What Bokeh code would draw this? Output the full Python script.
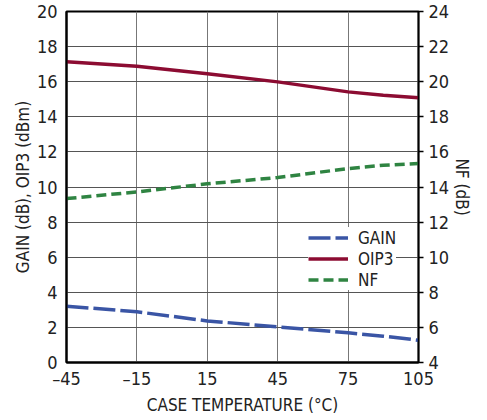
from bokeh.plotting import figure
from bokeh.models import (Range1d, LinearAxis, FixedTicker, SingleIntervalTicker,
                          Legend, LegendItem)
from bokeh.embed import file_html
from bokeh.resources import INLINE

# ---- data ----
temp = [-45, -15, 15, 45, 75, 90, 105]
gain = [3.21, 2.89, 2.37, 2.03, 1.69, 1.50, 1.27]
oip3 = [17.13, 16.88, 16.45, 15.99, 15.42, 15.23, 15.08]
nf = [13.34, 13.72, 14.18, 14.54, 15.05, 15.24, 15.34]
x_ticks = [-45, -15, 15, 45, 75, 105]
x_tick_labels = ["–45", "–15", "15", "45", "75", "105"]

FONT = "'DejaVu Sans Condensed', Roboto, sans-serif"
TICK_SIZE = "18px"
LABEL_SIZE = "17px"

p = figure(width=470, height=414, x_range=Range1d(-45, 105), y_range=Range1d(0, 20),
           output_backend="svg", toolbar_location=None,
           min_border_left=66, min_border_right=52, min_border_top=11, min_border_bottom=52)
p.frame_width = 352
p.frame_height = 351
p.extra_y_ranges = {"nf": Range1d(4, 24)}

p.outline_line_color = "black"
p.outline_line_width = 2
p.background_fill_color = "white"
p.border_fill_color = "white"

# x axis
xa = p.xaxis[0]
xa.ticker = FixedTicker(ticks=x_ticks)
xa.major_label_overrides = {t: l for t, l in zip(x_ticks, x_tick_labels)}
xa.axis_label = "CASE TEMPERATURE (°C)"

# left y axis
ya = p.yaxis[0]
ya.ticker = SingleIntervalTicker(interval=2)
ya.axis_label = "GAIN (dB), OIP3 (dBm)"

for ax in (xa, ya):
    ax.major_tick_out = 0
    ax.major_tick_in = 0
    ax.minor_tick_out = 0
    ax.minor_tick_in = 0
    ax.axis_line_color = "black"
    ax.axis_line_width = 2
    ax.major_label_text_font = FONT
    ax.major_label_text_font_size = TICK_SIZE
    ax.major_label_text_color = "#222222"
    ax.axis_label_text_font = FONT
    ax.axis_label_text_font_size = LABEL_SIZE
    ax.axis_label_text_font_style = "normal"
    ax.axis_label_text_color = "#222222"
xa.major_label_standoff = 5
xa.axis_label_standoff = 3
ya.major_label_standoff = 9
ya.axis_label_standoff = 1

# right axis
ra = LinearAxis(y_range_name="nf", ticker=SingleIntervalTicker(interval=2), axis_label="NF (dB)")
ra.major_tick_out = 5
ra.major_tick_in = 0
ra.minor_tick_out = 0
ra.minor_tick_in = 0
ra.major_tick_line_color = "black"
ra.major_tick_line_width = 1.5
ra.axis_line_color = "black"
ra.axis_line_width = 1.5
ra.major_label_text_font = FONT
ra.major_label_text_font_size = TICK_SIZE
ra.major_label_text_color = "#222222"
ra.major_label_standoff = 5
ra.axis_label_text_font = FONT
ra.axis_label_text_font_size = LABEL_SIZE
ra.axis_label_text_font_style = "normal"
ra.axis_label_text_color = "#222222"
ra.axis_label_standoff = 0
p.add_layout(ra, "right")

# grid
p.xgrid.grid_line_color = "#777777"
p.ygrid.grid_line_color = "#555555"
p.xgrid.grid_line_width = 1
p.ygrid.grid_line_width = 1

# lines
r_gain = p.line(temp, gain, line_color="#3a55a5", line_width=3.5, line_dash="22 5")
r_oip3 = p.line(temp, oip3, line_color="#8c0c32", line_width=3.5)
r_nf = p.line(temp, nf, y_range_name="nf", line_color="#2f8442", line_width=3.5, line_dash="10 5")

legend = Legend(items=[LegendItem(label="GAIN", renderers=[r_gain]),
                       LegendItem(label="OIP3", renderers=[r_oip3]),
                       LegendItem(label="NF", renderers=[r_nf])],
                location=(242, 72))
legend.border_line_color = None
legend.background_fill_color = "white"
legend.background_fill_alpha = 1
legend.label_text_font = FONT
legend.label_text_font_size = LABEL_SIZE
legend.label_text_color = "#222222"
legend.glyph_width = 40
legend.glyph_height = 21
legend.label_height = 21
legend.label_standoff = 10
legend.spacing = 0
legend.padding = 8
legend.margin = 0
p.add_layout(legend, "center")

open("out.html", "w").write(file_html(p, INLINE))
